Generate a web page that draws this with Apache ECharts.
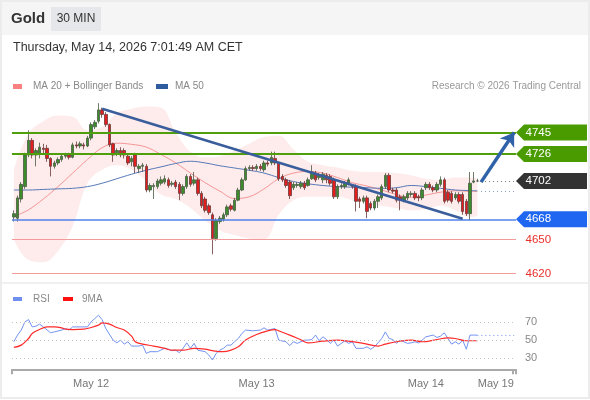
<!DOCTYPE html>
<html>
<head>
<meta charset="utf-8">
<script src="https://cdn.jsdelivr.net/npm/echarts@6/dist/echarts.min.js"></script>
<style>
  html, body { margin: 0; padding: 0; background: #fff; }
  #chart { width: 590px; height: 400px; }
</style>
</head>
<body>
<div id="chart"></div>
<script>
// 30 min bars, index 0 = first bar drawn
const opens = [
  4670, 4669, 4686, 4697, 4725, 4738, 4725, 4726, 4731, 4731, 4722, 4715, 4718, 4721, 4724, 4725, 4723, 4734, 4733, 4734, 4733, 4740, 4750, 4755, 4765, 4761, 4752, 4735, 4727, 4729, 4729, 4724,
  4719, 4725, 4713, 4715, 4715, 4694, 4697, 4697, 4700, 4701, 4703, 4699, 4701, 4699, 4691, 4697, 4706, 4700, 4703, 4691, 4686, 4680,
  4672, 4651, 4666, 4668, 4672, 4680, 4676, 4685, 4694, 4703, 4713, 4714, 4713, 4715, 4712, 4718, 4718, 4722, 4718, 4706, 4703, 4701, 4696, 4698, 4697, 4700, 4698, 4704, 4709, 4705, 4703, 4707, 4706, 4703, 4688, 4697, 4697, 4700, 4698,
  4697, 4686, 4684, 4687, 4682, 4678, 4684, 4687, 4697, 4707, 4694, 4694, 4688, 4685, 4687, 4690, 4691, 4688, 4687, 4696, 4699, 4696, 4694, 4699, 4703, 4692, 4691, 4687, 4690, 4690, 4684, 4673, 4701, 4702
]
const closes = [
  4673, 4687, 4699, 4725, 4738, 4725, 4729, 4732, 4730, 4722, 4715, 4718, 4721, 4724, 4725, 4723, 4734, 4733, 4735, 4733, 4740, 4752, 4754, 4765, 4761, 4752, 4734, 4725, 4729, 4725, 4725, 4718,
  4722, 4715, 4715, 4716, 4694, 4698, 4698, 4702, 4703, 4704, 4698, 4700, 4697, 4691, 4697, 4706, 4699, 4703, 4691, 4680, 4676, 4674,
  4651, 4667, 4669, 4672, 4679, 4677, 4685, 4694, 4703, 4713, 4714, 4713, 4715, 4713, 4718, 4717, 4723, 4718, 4704, 4703, 4698, 4689, 4699, 4699, 4700, 4696, 4703, 4710, 4703, 4707, 4708, 4703, 4700, 4688, 4697, 4698, 4700, 4703, 4697,
  4684, 4684, 4687, 4675, 4678, 4684, 4688, 4697, 4707, 4694, 4693, 4685, 4685, 4688, 4691, 4691, 4687, 4687, 4694, 4699, 4696, 4694, 4699, 4703, 4684, 4685, 4684, 4690, 4684, 4675, 4673, 4700, 4702, 4702
]
const lows = [
  4666, 4666, 4683, 4695, 4723, 4722, 4715, 4722, 4725, 4719, 4706, 4713, 4716, 4719, 4722, 4721, 4722, 4731, 4731, 4730, 4732, 4738, 4748, 4753, 4758, 4750, 4732, 4719, 4724, 4723, 4722, 4716,
  4715, 4709, 4709, 4710, 4692, 4692, 4686, 4695, 4698, 4699, 4696, 4697, 4695, 4685, 4689, 4695, 4697, 4698, 4689, 4678, 4674, 4672,
  4637, 4649, 4664, 4666, 4670, 4675, 4675, 4684, 4693, 4702, 4711, 4711, 4711, 4711, 4710, 4715, 4716, 4716, 4702, 4701, 4696, 4686, 4694, 4696, 4695, 4694, 4697, 4703, 4701, 4703, 4700, 4700, 4698, 4686, 4686, 4695, 4695, 4698, 4695,
  4675, 4678, 4682, 4669, 4676, 4676, 4678, 4685, 4695, 4692, 4691, 4683, 4676, 4683, 4685, 4688, 4685, 4684, 4685, 4694, 4694, 4692, 4692, 4697, 4682, 4683, 4682, 4685, 4682, 4672, 4671, 4667, 4700, 4701
]
const highs = [
  4676, 4689, 4701, 4727, 4747, 4740, 4731, 4736, 4735, 4734, 4723, 4720, 4723, 4726, 4727, 4727, 4736, 4737, 4737, 4736, 4742, 4754, 4756, 4771, 4767, 4763, 4753, 4736, 4731, 4732, 4731, 4726,
  4724, 4727, 4717, 4718, 4717, 4700, 4700, 4704, 4706, 4707, 4705, 4702, 4703, 4701, 4699, 4708, 4708, 4710, 4705, 4693, 4688, 4682,
  4674, 4669, 4671, 4674, 4681, 4682, 4687, 4696, 4705, 4715, 4716, 4716, 4717, 4717, 4720, 4720, 4728, 4728, 4719, 4708, 4705, 4703, 4701, 4701, 4702, 4702, 4705, 4716, 4711, 4709, 4710, 4709, 4708, 4705, 4699, 4700, 4702, 4705, 4699,
  4699, 4688, 4689, 4689, 4684, 4686, 4690, 4699, 4709, 4709, 4696, 4696, 4690, 4690, 4693, 4693, 4693, 4690, 4696, 4701, 4701, 4698, 4701, 4706, 4705, 4694, 4693, 4692, 4692, 4692, 4686, 4710, 4710, 4704
]

// number of bar slots on the time axis (includes the empty space on the right)
const slotCount = 137
const dayLabels = ['May 12', 'May 13', 'May 14', 'May 19']
const dayLabelIdx = [21, 66, 112, 131]

// indicators, [bar index, value]
const ma20 = [[0, 4670.5], [4, 4676.5], [8, 4686], [12, 4697], [16, 4709], [20, 4721], [24, 4731.5], [28, 4735.5], [32, 4734.5], [36, 4732], [40, 4725.5], [44, 4718], [48, 4709], [52, 4700.5], [56, 4693], [60, 4686.5], [64, 4688], [68, 4695], [72, 4704], [76, 4709], [80, 4710.4], [84, 4709], [88, 4705], [92, 4700.5], [96, 4697.5], [100, 4694], [104, 4690], [108, 4687.5], [112, 4689.5], [116, 4692], [120, 4693.3], [124, 4692.8], [126, 4692.7]]
const ma50 = [[0, 4694], [4, 4694], [8, 4694.5], [12, 4695], [16, 4695.5], [20, 4697], [24, 4700], [28, 4704], [32, 4708], [36, 4711.5], [40, 4714.5], [44, 4717.5], [48, 4719.5], [52, 4718], [56, 4715.5], [60, 4713.5], [64, 4711.5], [68, 4709], [72, 4705], [76, 4701.5], [80, 4699.5], [84, 4698], [88, 4697], [92, 4696.5], [96, 4696], [100, 4695.5], [104, 4696], [108, 4698], [112, 4697], [116, 4695.5], [120, 4694], [124, 4693.5], [126, 4693.3]]
const bandUpper = [[0, 4712], [4, 4744], [8, 4755], [12, 4760], [16, 4759], [20, 4747], [24, 4750], [28, 4762], [32, 4766], [36, 4768], [40, 4767], [44, 4745], [48, 4728], [52, 4723], [56, 4724], [60, 4729], [64, 4735], [68, 4741], [72, 4742], [76, 4730], [80, 4719], [84, 4716], [88, 4714], [92, 4711], [96, 4710], [100, 4710], [104, 4709], [108, 4707], [112, 4704], [116, 4703], [120, 4705], [124, 4705], [126, 4704]]
const bandLower = [[0, 4650], [4, 4632], [8, 4630], [12, 4640], [16, 4662], [20, 4700], [24, 4712], [28, 4716], [32, 4712], [36, 4702], [40, 4690], [44, 4686], [48, 4678], [52, 4667], [56, 4658], [60, 4654], [64, 4651], [68, 4650], [72, 4672], [76, 4685], [80, 4688], [84, 4688], [88, 4688], [92, 4685], [96, 4682], [100, 4680], [104, 4678], [108, 4676], [112, 4677], [116, 4680], [120, 4676], [124, 4670], [126, 4671]]

const rsi = [[0, 48.2], [1, 55.5], [2, 61], [3, 70], [4, 72.5], [5, 64.5], [6, 65.3], [7, 67.5], [8, 64.5], [10, 58], [11, 59], [13, 61], [14, 62.7], [15, 61], [16, 64.5], [18, 64.5], [20, 64.5], [21, 70], [22, 73.6], [23, 77.3], [24, 72.5], [25, 62.7], [27, 50], [28, 47], [29, 50], [30, 45.6], [31, 48.2], [32, 43.5], [34, 43.5], [35, 44.5], [36, 35.5], [37, 37.3], [39, 37.3], [41, 41], [42, 40], [43, 38.4], [44, 39], [45, 36.2], [46, 41], [47, 47], [48, 41], [49, 46.4], [50, 39], [52, 37.3], [53, 33.6], [54, 28.2], [55, 35.5], [56, 39], [57, 41], [58, 44.5], [59, 44.5], [60, 48.2], [61, 51.8], [62, 57.3], [63, 61], [65, 60.2], [67, 61], [68, 63.5], [69, 61], [71, 62.7], [72, 50], [74, 48.2], [75, 44], [76, 48.2], [77, 46.4], [79, 50], [80, 50], [81, 50.7], [82, 55.5], [83, 49.3], [84, 53.6], [85, 50.7], [86, 46.4], [87, 50], [88, 43.5], [90, 49.3], [91, 46.4], [92, 48.2], [93, 41], [95, 41], [96, 42.7], [97, 40], [98, 42.7], [99, 47], [100, 51.8], [101, 59], [102, 51.8], [103, 50.7], [104, 46.4], [105, 50], [107, 46.4], [108, 47], [109, 48.2], [110, 47], [111, 50], [112, 53.6], [114, 55.5], [115, 52.9], [116, 54.4], [117, 58], [118, 51.8], [119, 45.6], [120, 48.2], [121, 45.6], [122, 50], [123, 40], [124, 55.5], [125, 55.5], [126, 55.5]]
const rsiMa9 = [[0, 42], [2, 44.5], [4, 51.8], [5, 57.3], [7, 61.6], [9, 64.5], [11, 64.5], [13, 63.5], [14, 62], [16, 61.6], [19, 62], [21, 63.8], [23, 66.4], [24, 68.9], [26, 67.5], [28, 63.8], [30, 61], [32, 54.4], [33, 48.2], [35, 45.6], [38, 43.5], [41, 41], [43, 39], [46, 39], [49, 41], [52, 40.2], [54, 38.4], [57, 37.3], [59, 39], [61, 42.7], [63, 50], [66, 56.2], [69, 60.2], [71, 61.6], [72, 60.2], [75, 55.5], [78, 50.4], [80, 47], [84, 48.9], [88, 50], [91, 48.9], [95, 46.4], [99, 43.5], [101, 45.6], [104, 48.2], [108, 50], [111, 48.2], [115, 50.7], [118, 52.5], [120, 51.8], [123, 49.3], [126, 49.3]]
const rsiLevels = [30, 50, 70]

// key levels on the right
const levelValues = [4745, 4726, 4702, 4668, 4650, 4620]
const levelKinds = ['resistance', 'resistance', 'last', 'support', 'target', 'target']
const lastPrice = 4702
const lastMa50 = 4693.3
const trendStart = [24, 4766]
const trendEnd = [122, 4668.5]
const arrowStart = [127, 4701]
const arrowEnd = [136, 4745]

const FONT = 'Liberation Sans, Arial, sans-serif'
const levelStyle = {
  resistance: { line: '#4f9f0c', width: 2, box: '#4a9b00', text: '#fff' },
  last: { line: null, box: '#333333', text: '#fff' },
  support: { line: '#4f82ea', width: 1.5, box: '#1f66f0', text: '#fff' },
  target: { line: '#f39a9a', width: 1, box: null, text: '#e8302a' }
}

const categories = Array.from({ length: slotCount }, (_, i) => i)
const candles = opens.map((o, i) => [o, closes[i], lows[i], highs[i]])
const bandSpan = bandUpper.map((p, i) => [p[0], p[1] - bandLower[i][1]])

const chart = echarts.init(document.getElementById('chart'), null, { renderer: 'canvas' })

const option = {
  animation: false,
  backgroundColor: '#fff',
  grid: [
    { left: 12, top: 96.5, width: 504, height: 187 },
    { left: 12, top: 300, width: 504, height: 69.3 }
  ],
  xAxis: [
    { type: 'category', gridIndex: 0, data: categories, boundaryGap: true, show: false },
    {
      type: 'category',
      gridIndex: 1,
      data: categories,
      boundaryGap: true,
      axisLine: { lineStyle: { color: '#aaaaaa', width: 2 } },
      axisTick: {
        show: true,
        length: 5,
        interval: (i) => i === 0 || i === slotCount - 1,
        lineStyle: { color: '#aaaaaa', width: 2 }
      },
      axisLabel: {
        interval: 0,
        margin: 9,
        color: '#777',
        fontSize: 11,
        fontFamily: FONT,
        formatter: (v, i) => {
          const k = dayLabelIdx.indexOf(i)
          return k >= 0 ? dayLabels[k] : ''
        }
      },
      splitLine: { show: false }
    }
  ],
  yAxis: [
    { type: 'value', gridIndex: 0, min: 4611.1, max: 4776.9, show: false },
    { type: 'value', gridIndex: 1, min: 18, max: 94, show: false }
  ],
  graphic: [
    { type: 'rect', shape: { x: 0, y: 0, width: 590, height: 35 }, style: { fill: '#f5f5f6' }, z: -10 },
    { type: 'text', x: 11, y: 19, style: { text: 'Gold', font: 'bold 15px ' + FONT, fill: '#333', verticalAlign: 'middle' } },
    { type: 'rect', shape: { x: 51, y: 7, width: 50, height: 24 }, style: { fill: '#e6e7ea' } },
    { type: 'text', x: 76, y: 19, style: { text: '30 MIN', font: '12px ' + FONT, fill: '#333', align: 'center', verticalAlign: 'middle' } },
    { type: 'text', x: 13, y: 48, style: { text: 'Thursday, May 14, 2026 7:01:49 AM CET', font: '12.5px ' + FONT, fill: '#333', verticalAlign: 'middle' } },
    { type: 'rect', shape: { x: 13, y: 84, width: 9, height: 5 }, style: { fill: '#f88080' } },
    { type: 'text', x: 33, y: 86.5, style: { text: 'MA 20 + Bollinger Bands', font: '10px ' + FONT, fill: '#888', verticalAlign: 'middle' } },
    { type: 'rect', shape: { x: 156, y: 84, width: 12, height: 5 }, style: { fill: '#2e5c9e' } },
    { type: 'text', x: 175, y: 86.5, style: { text: 'MA 50', font: '10px ' + FONT, fill: '#888', verticalAlign: 'middle' } },
    { type: 'text', x: 581, y: 86.5, style: { text: 'Research © 2026 Trading Central', font: '10px ' + FONT, fill: '#999', align: 'right', verticalAlign: 'middle' } },
    { type: 'rect', shape: { x: 0, y: 282, width: 590, height: 2 }, style: { fill: '#f0f0f0' } },
    { type: 'rect', shape: { x: 13, y: 297, width: 9, height: 4 }, style: { fill: '#6f8ff0' } },
    { type: 'text', x: 33, y: 299, style: { text: 'RSI', font: '10px ' + FONT, fill: '#888', verticalAlign: 'middle' } },
    { type: 'rect', shape: { x: 63, y: 297, width: 10, height: 4 }, style: { fill: '#ff1010' } },
    { type: 'text', x: 82, y: 299, style: { text: '9MA', font: '10px ' + FONT, fill: '#888', verticalAlign: 'middle' } },
    { type: 'rect', shape: { x: 1, y: 1, width: 588, height: 397 }, style: { fill: 'none', stroke: '#ececec', lineWidth: 2 }, z: 100 }
  ],
  series: [
    {
      name: 'bandLow',
      type: 'line',
      xAxisIndex: 0,
      yAxisIndex: 0,
      data: bandLower,
      stack: 'bb',
      smooth: 0.4,
      symbol: 'none',
      lineStyle: { opacity: 0 },
      silent: true,
      z: 1
    },
    {
      name: 'bandSpan',
      type: 'line',
      xAxisIndex: 0,
      yAxisIndex: 0,
      data: bandSpan,
      stack: 'bb',
      smooth: 0.4,
      symbol: 'none',
      lineStyle: { opacity: 0 },
      areaStyle: { color: 'rgba(252, 200, 200, 0.5)' },
      silent: true,
      z: 1
    },
    {
      name: 'MA 20',
      type: 'line',
      xAxisIndex: 0,
      yAxisIndex: 0,
      data: ma20,
      smooth: 0.4,
      symbol: 'none',
      lineStyle: { color: '#f59595', width: 1 },
      z: 3
    },
    {
      name: 'MA 50',
      type: 'line',
      xAxisIndex: 0,
      yAxisIndex: 0,
      data: ma50,
      smooth: 0.4,
      symbol: 'none',
      lineStyle: { color: '#5578b8', width: 1 },
      z: 3
    },
    {
      name: 'Gold',
      type: 'candlestick',
      xAxisIndex: 0,
      yAxisIndex: 0,
      data: candles,
      barWidth: 3,
      itemStyle: {
        color: '#3c8c2c',
        color0: '#e41e1e',
        borderColor: '#4a5a44',
        borderColor0: '#6a3a3a',
        borderWidth: 0.8
      },
      z: 4,
      markLine: {
        silent: true,
        symbol: 'none',
        label: { show: false },
        data: levelValues
          .map((v, k) => ({ v, st: levelStyle[levelKinds[k]] }))
          .filter(d => d.st.line)
          .map(d => ({ yAxis: d.v, lineStyle: { color: d.st.line, width: d.st.width, type: 'solid' } }))
          .concat([
            [{ coord: trendStart }, { coord: trendEnd, lineStyle: { color: '#3a5d9c', width: 2.5, type: 'solid' } }],
            [{ coord: [arrowStart[0], lastPrice] }, { coord: [arrowEnd[0], lastPrice], lineStyle: { color: '#777', width: 1, type: [1, 3] } }],
            [{ coord: [arrowStart[0], lastMa50] }, { coord: [arrowEnd[0], lastMa50], lineStyle: { color: '#8a9cc4', width: 1, type: [1, 3] } }]
          ])
      }
    },
    {
      name: 'arrow',
      type: 'line',
      xAxisIndex: 0,
      yAxisIndex: 0,
      data: [],
      markLine: {
        silent: true,
        symbol: ['none', 'arrow'],
        symbolSize: [13, 13],
        label: { show: false },
        lineStyle: { color: '#2f62a8', width: 3.5, type: 'solid' },
        data: [[{ coord: arrowStart }, { coord: arrowEnd }]]
      },
      z: 6
    },
    {
      name: 'levels',
      type: 'custom',
      xAxisIndex: 0,
      yAxisIndex: 0,
      clip: false,
      silent: true,
      z: 10,
      data: levelValues.map((v, k) => [0, v, k]),
      renderItem: (params, api) => {
        const k = api.value(2)
        const st = levelStyle[levelKinds[k]]
        const y = api.coord([0, api.value(1)])[1]
        const x0 = params.coordSys.x + params.coordSys.width
        const text = {
          type: 'text',
          style: { x: x0 + 9.5, y: y, text: String(levelValues[k]), fill: st.text, font: '11.5px ' + FONT, verticalAlign: 'middle' }
        }
        if (!st.box) return text
        return {
          type: 'group',
          children: [
            { type: 'polygon', shape: { points: [[x0, y], [x0 + 8, y - 8], [x0 + 71, y - 8], [x0 + 71, y + 8], [x0 + 8, y + 8]] }, style: { fill: st.box } },
            text
          ]
        }
      }
    },
    {
      name: 'RSI',
      type: 'line',
      xAxisIndex: 1,
      yAxisIndex: 1,
      data: rsi,
      symbol: 'none',
      lineStyle: { color: '#7393f0', width: 1 },
      z: 3,
      markLine: {
        silent: true,
        symbol: 'none',
        data: rsiLevels.map(v => ({ yAxis: v }))
          .concat([[{ coord: [rsi[rsi.length - 1][0], rsi[rsi.length - 1][1]] }, { coord: [slotCount - 1, rsi[rsi.length - 1][1]], lineStyle: { color: '#7393f0', type: [1, 3], width: 1 }, label: { show: false } }]]),
        lineStyle: { color: '#c4c4c4', type: [1, 3], width: 1 },
        label: { show: true, position: 'end', distance: 9, color: '#888', fontSize: 11, fontFamily: FONT, formatter: '{c}' }
      }
    },
    {
      name: '9MA',
      type: 'line',
      xAxisIndex: 1,
      yAxisIndex: 1,
      data: rsiMa9,
      smooth: 0.4,
      symbol: 'none',
      lineStyle: { color: '#ff2a2a', width: 1.2 },
      z: 4
    }
  ]
}

chart.setOption(option)
</script>
</body>
</html>
